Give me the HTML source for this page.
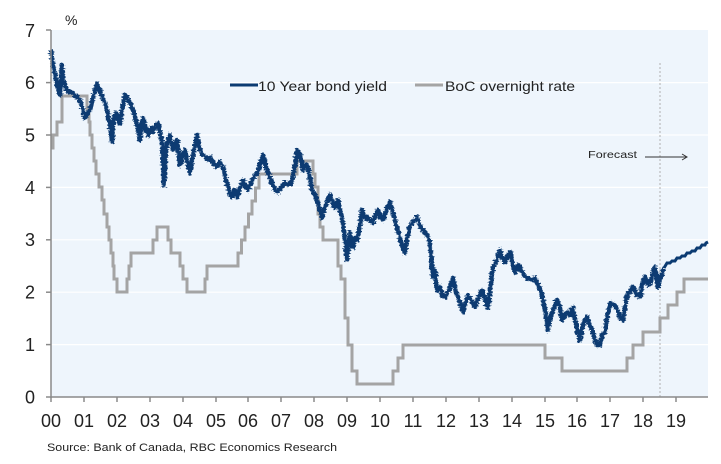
<!DOCTYPE html>
<html><head><meta charset="utf-8"><style>
html,body{margin:0;padding:0;background:#fff;}
svg{display:block;}
text{font-family:"Liberation Sans",sans-serif;fill:#222;}
</style></head><body>
<svg width="721" height="464" viewBox="0 0 721 464" xmlns="http://www.w3.org/2000/svg">
<defs>
<filter id="rough" x="-5%" y="-5%" width="110%" height="110%">
<feTurbulence type="fractalNoise" baseFrequency="0.35 0.6" numOctaves="2" seed="3" result="n"/>
<feDisplacementMap in="SourceGraphic" in2="n" scale="5" xChannelSelector="R" yChannelSelector="G"/>
</filter>
</defs>
<rect x="0" y="0" width="721" height="464" fill="#fff"/>
<rect x="51" y="30" width="657" height="367" fill="#eef5fc"/>
<g stroke="#ffffff" stroke-width="1.2">
<line x1="52" y1="344.6" x2="708" y2="344.6"/>
<line x1="52" y1="292.2" x2="708" y2="292.2"/>
<line x1="52" y1="239.8" x2="708" y2="239.8"/>
<line x1="52" y1="187.4" x2="708" y2="187.4"/>
<line x1="52" y1="135" x2="708" y2="135"/>
<line x1="52" y1="82.6" x2="708" y2="82.6"/>
</g>
<line x1="660" y1="63" x2="660" y2="397" stroke="#b0b0b0" stroke-width="1" stroke-dasharray="2,2"/>
<path d="M51,148 H53 V135 H57 V122 H62 V96 H87 V109 H89 V122 H90 V135 H92 V148 H94 V161 H96 V174 H99 V187 H102 V200 H104 V214 H107 V227 H109 V240 H111 V253 H113 V266 H114 V279 H117 V292 H127 V279 H129 V266 H131 V253 H153 V240 H157 V227 H168 V240 H171 V253 H180 V266 H183 V279 H187 V292 H205 V279 H207 V266 H238 V253 H241.5 V240 H245 V227 H248.5 V214 H252 V201 H255.5 V188 H259 V174 H297 V161 H313 V174 H315 V187 H318 V214 H320 V227 H323 V240 H338 V266 H341 V279 H345 V318 H348 V345 H352 V371 H357 V384 H393 V371 H398 V358 H403 V345 H545 V358 H562 V371 H627 V358 H633 V345 H643 V332 H660 V318 H668 V305 H677 V292 H684 V279 H708" fill="none" stroke="#a4a4a4" stroke-width="3"/>
<g filter="url(#rough)">
<polyline fill="none" stroke="#0b3b72" stroke-width="4.5" stroke-linejoin="round" points="51,50 52,58 53,65 55,75 57,85 60,95 62,65 63,80 66,88 69,92 72,92 75,96 77,97 80,100 82,107 85,118 88,112 90,110 93,98 97,84 100,90 102,97 105,103 107,110 110,125 112,142 114,118 116,113 118,118 120,123 123,105 125,95 128,100 130,103 133,110 135,117 138,128 140,140 142,122 143,118 146,130 148,135 151,128 153,132 156,126 158,123 160,132 162,143 164,185 166,150 167,143 170,135 173,150 175,145 177,140 180,165 183,155 185,150 188,165 190,173 193,155 197,135 200,150 203,155 205,157 208,160 210,157 213,163 217,167 220,162 223,167 227,183 230,195 232,197 235,190 237,197 240,188 243,180 246,187 248,190 252,180 257,173 260,165 263,155 265,162 267,170 270,178 273,185 275,190 278,192 282,186 285,183 289,185 292,180 295,165 297,150 300,155 302,163 303,170 306,165 308,167 310,180 312,190 315,195 317,200 320,210 322,218 325,207 328,200 330,195 333,203 335,208 338,200 340,210 342,217 345,240 347,260 349,245 350,233 352,245 353,247 355,238 357,240 360,225 362,210 365,218 367,217 370,220 373,223 376,214 378,210 381,218 383,220 387,208 390,202 393,213 397,227 400,238 403,250 405,253 407,238 410,227 413,222 417,217 420,225 423,230 427,235 430,243 432,262 433,277 435,270 437,290 440,287 442,295 445,297 449,290 453,278 456,292 458,297 461,305 463,312 466,300 468,295 471,300 475,307 478,298 482,290 485,300 488,308 490,290 493,268 496,262 500,250 502,257 505,262 508,255 510,252 513,265 515,273 518,265 520,268 524,275 527,278 531,280 535,278 538,285 542,295 545,310 548,330 550,318 552,313 555,305 557,300 560,308 562,320 565,315 568,312 570,315 573,307 575,320 578,333 580,340 583,325 587,317 590,325 592,330 595,340 597,345 600,345 602,335 605,332 607,318 610,303 613,305 615,305 618,312 620,318 623,320 626,300 628,293 631,290 633,287 637,295 640,297 643,282 645,277 648,285 650,283 653,272 655,267 657,280 658,287 660,280 662,273 664,268"/>
</g>
<polyline fill="none" stroke="#0b3b72" stroke-width="3" stroke-linejoin="miter" points="664,268 667,263 670,263 672,261 675,261 677,258 680,258 682,256 685,256 687,253 690,253 692,251 695,251 697,248 700,248 702,245 705,245 706,243 708,242"/>
<g stroke="#8a8a8a" stroke-width="1.5">
<line x1="51" y1="30" x2="51" y2="398"/>
<line x1="51" y1="397" x2="708" y2="397"/>
<line x1="46" y1="30" x2="51" y2="30"/>
<line x1="46" y1="82.6" x2="51" y2="82.6"/>
<line x1="46" y1="135" x2="51" y2="135"/>
<line x1="46" y1="187.4" x2="51" y2="187.4"/>
<line x1="46" y1="239.8" x2="51" y2="239.8"/>
<line x1="46" y1="292.2" x2="51" y2="292.2"/>
<line x1="46" y1="344.6" x2="51" y2="344.6"/>
<line x1="46" y1="397" x2="51" y2="397"/>
<line x1="51" y1="397" x2="51" y2="402"/>
<line x1="84" y1="397" x2="84" y2="402"/>
<line x1="117" y1="397" x2="117" y2="402"/>
<line x1="150" y1="397" x2="150" y2="402"/>
<line x1="183" y1="397" x2="183" y2="402"/>
<line x1="216" y1="397" x2="216" y2="402"/>
<line x1="248" y1="397" x2="248" y2="402"/>
<line x1="281" y1="397" x2="281" y2="402"/>
<line x1="314" y1="397" x2="314" y2="402"/>
<line x1="347" y1="397" x2="347" y2="402"/>
<line x1="380" y1="397" x2="380" y2="402"/>
<line x1="413" y1="397" x2="413" y2="402"/>
<line x1="446" y1="397" x2="446" y2="402"/>
<line x1="479" y1="397" x2="479" y2="402"/>
<line x1="512" y1="397" x2="512" y2="402"/>
<line x1="545" y1="397" x2="545" y2="402"/>
<line x1="577" y1="397" x2="577" y2="402"/>
<line x1="610" y1="397" x2="610" y2="402"/>
<line x1="643" y1="397" x2="643" y2="402"/>
<line x1="676" y1="397" x2="676" y2="402"/>
</g>
<g font-size="18" text-anchor="end">
<text x="35" y="37">7</text>
<text x="35" y="89">6</text>
<text x="35" y="141.5">5</text>
<text x="35" y="194">4</text>
<text x="35" y="246">3</text>
<text x="35" y="298.5">2</text>
<text x="35" y="351">1</text>
<text x="35" y="403.5">0</text>
</g>
<text x="65" y="25" font-size="14">%</text>
<g font-size="18" text-anchor="middle">
<text x="51" y="427">00</text>
<text x="84" y="427">01</text>
<text x="117" y="427">02</text>
<text x="150" y="427">03</text>
<text x="183" y="427">04</text>
<text x="216" y="427">05</text>
<text x="248" y="427">06</text>
<text x="281" y="427">07</text>
<text x="314" y="427">08</text>
<text x="347" y="427">09</text>
<text x="380" y="427">10</text>
<text x="413" y="427">11</text>
<text x="446" y="427">12</text>
<text x="479" y="427">13</text>
<text x="512" y="427">14</text>
<text x="545" y="427">15</text>
<text x="577" y="427">16</text>
<text x="610" y="427">17</text>
<text x="643" y="427">18</text>
<text x="676" y="427">19</text>
</g>
<line x1="230" y1="85" x2="258" y2="85" stroke="#0b3b72" stroke-width="3"/>
<text x="258" y="91" font-size="14" textLength="129" lengthAdjust="spacingAndGlyphs">10 Year bond yield</text>
<line x1="415" y1="85" x2="443" y2="85" stroke="#a4a4a4" stroke-width="3"/>
<text x="445" y="91" font-size="14" textLength="130" lengthAdjust="spacingAndGlyphs">BoC overnight rate</text>
<text x="588" y="158" font-size="10" textLength="49" lengthAdjust="spacingAndGlyphs">Forecast</text>
<line x1="645" y1="157" x2="687" y2="157" stroke="#333" stroke-width="1"/>
<polyline points="682,154 687,157 682,160" fill="none" stroke="#333" stroke-width="1"/>
<text x="47" y="451" font-size="11" textLength="290" lengthAdjust="spacingAndGlyphs">Source:  Bank of Canada, RBC Economics Research</text>
</svg>
</body></html>
